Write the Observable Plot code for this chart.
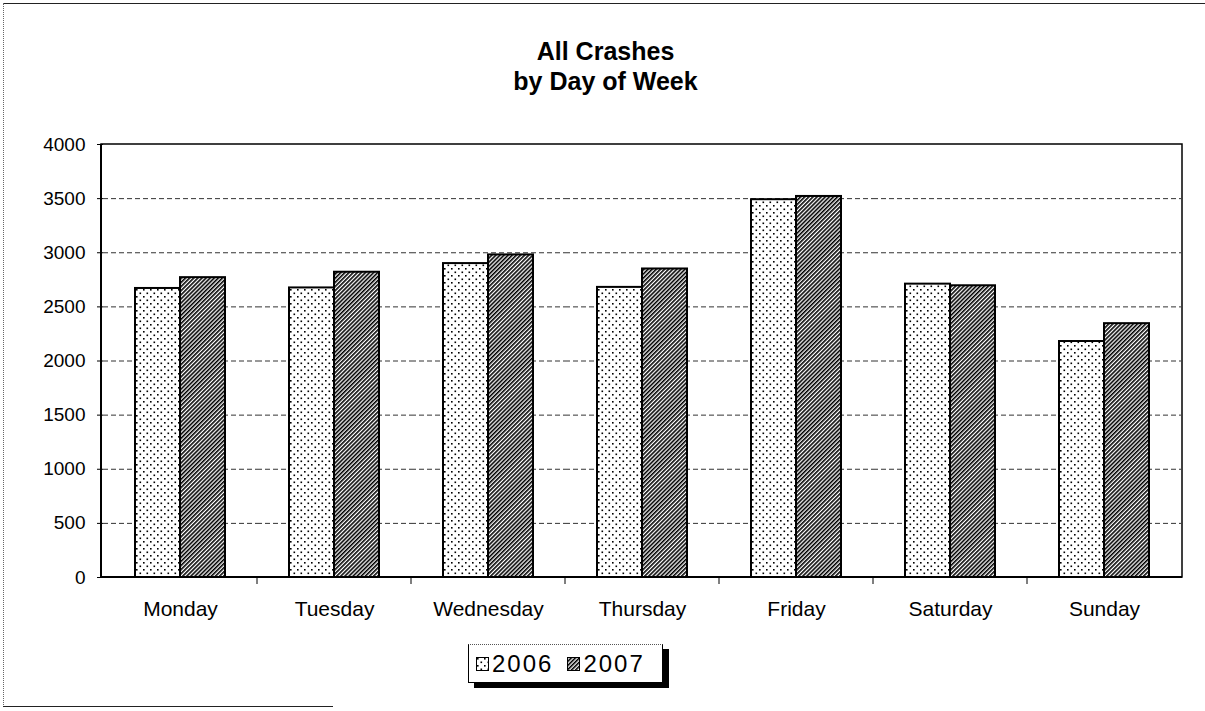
<!DOCTYPE html>
<html>
<head>
<meta charset="utf-8">
<script src="https://cdn.jsdelivr.net/npm/d3@7"></script>
<script src="https://cdn.jsdelivr.net/npm/@observablehq/plot@0.6"></script>
<style>
  body { margin: 0; background: #fff; font-family: "Liberation Sans", Arial, sans-serif; }
  #wrap { position: relative; width: 1205px; height: 711px; overflow: hidden; }
  #title { position: absolute; left: 0; top: 36px; width: 1211px; text-align: center; font-weight: bold; font-size: 25px; line-height: 30px; color: #000; }
  #chart { position: absolute; left: 0; top: 120px; }
  #legend { position: absolute; left: 468px; top: 644px; width: 193px; height: 37px; background: #fff;
            border-left: 1px solid #000; border-right: 1px solid #000; border-top: 1px dotted #555; border-bottom: 1px solid #000;
            box-shadow: 6px 5px 0 #000; display: flex; align-items: center; font-size: 24px; letter-spacing: 2px; }
  .sw { width: 13px; height: 14px; margin-left: 7px; margin-right: 3px; }
  .frame-top { position: absolute; left: 3px; top: 3px; width: 1202px; border-top: 1.5px solid #222; }
  .frame-left { position: absolute; left: 3px; top: 3px; height: 704px; border-left: 1px dotted #666; }
  .frame-bottom { position: absolute; left: 3px; top: 706px; width: 330px; border-top: 1.5px solid #222; }
</style>
</head>
<body>
<svg width="0" height="0" style="position:absolute">
  <defs>
    <pattern id="dots" patternUnits="userSpaceOnUse" width="7" height="7">
      <rect width="7" height="7" fill="#fff"/>
      <rect x="1" y="1" width="1.6" height="1.6" fill="#000"/>
      <rect x="4.5" y="4.5" width="1.6" height="1.6" fill="#000"/>
    </pattern>
    <pattern id="hatch" patternUnits="userSpaceOnUse" width="2.9" height="2.9" patternTransform="rotate(45)">
      <rect width="2.9" height="2.9" fill="#fff"/>
      <rect x="0" y="0" width="1.6" height="2.9" fill="#000"/>
    </pattern>
  </defs>
</svg>
<div id="wrap">
  <div class="frame-top"></div>
  <div class="frame-left"></div>
  <div class="frame-bottom"></div>
  <div id="title">All Crashes<br>by Day of Week</div>
  <div id="chart"></div>
  <div id="legend">
    <svg class="sw" viewBox="0 0 13 14"><rect x="0.5" y="0.5" width="12" height="13" fill="url(#dots)" stroke="#000"/></svg><span>2006</span>
    <svg class="sw" viewBox="0 0 13 14" style="margin-left:14px"><rect x="0.5" y="0.5" width="12" height="13" fill="url(#hatch)" stroke="#000"/></svg><span>2007</span>
  </div>
</div>
<script>
const days = ["Monday", "Tuesday", "Wednesday", "Thursday", "Friday", "Saturday", "Sunday"];
const years = ["2006", "2007"];
const crashes2006 = [2670, 2675, 2900, 2680, 3490, 2710, 2180];
const crashes2007 = [2770, 2820, 2980, 2850, 3520, 2695, 2345];
const yTicks = [0, 500, 1000, 1500, 2000, 2500, 3000, 3500, 4000];
const gridTicks = [500, 1000, 1500, 2000, 2500, 3000, 3500];

const data = days.flatMap((d, i) => [
  {day: d, year: "2006", value: crashes2006[i]},
  {day: d, year: "2007", value: crashes2007[i]}
]);

const plot = Plot.plot({
  width: 1205,
  height: 510,
  marginLeft: 101,
  marginRight: 23,
  marginTop: 24,
  marginBottom: 53,
  style: {fontFamily: "'Liberation Sans', Arial, sans-serif", fontSize: "19px", color: "#000", background: "transparent", overflow: "visible"},
  fx: {domain: days, padding: 0, label: null, axis: "bottom", tickSize: 0, tickPadding: 24},
  x: {domain: years, axis: null, paddingInner: 0, paddingOuter: 0.7},
  y: {domain: [0, 4000], ticks: yTicks, tickSize: 6, tickPadding: 12, label: null, tickFormat: d => String(d)},
  marks: [
    Plot.ruleY(gridTicks, {stroke: "#333", strokeDasharray: "5,3", strokeWidth: 1}),
    Plot.barY(data.filter(d => d.year === "2006"), {fx: "day", x: "year", y: "value", fill: "url(#dots)", stroke: "#000", strokeWidth: 2}),
    Plot.barY(data.filter(d => d.year === "2007"), {fx: "day", x: "year", y: "value", fill: "url(#hatch)", stroke: "#000", strokeWidth: 2})
  ]
});

document.getElementById("chart").appendChild(plot);

// larger category labels
d3.select(plot).selectAll("g[aria-label='fx-axis tick label']").attr("font-size", 21);

// plot-area frame and category boundary ticks, derived from the scales
const fx = plot.scale("fx");
const ys = plot.scale("y");
const [x0, x1] = fx.range;
const yBottom = ys.apply(0), yTop = ys.apply(4000);
const svg = d3.select(plot);
const g = svg.append("g");
g.append("rect").attr("x", x0).attr("y", yTop).attr("width", x1 - x0).attr("height", yBottom - yTop)
  .attr("fill", "none").attr("stroke", "#000").attr("stroke-width", 1.5);
g.append("line").attr("x1", x0).attr("x2", x1).attr("y1", yBottom).attr("y2", yBottom).attr("stroke", "#000").attr("stroke-width", 2);
g.append("line").attr("x1", x0).attr("x2", x0).attr("y1", yTop).attr("y2", yBottom).attr("stroke", "#000").attr("stroke-width", 2);
days.slice(1).forEach(d => {
  const bx = fx.apply(d);
  g.append("line").attr("x1", bx).attr("x2", bx).attr("y1", yBottom).attr("y2", yBottom + 7).attr("stroke", "#000").attr("stroke-width", 1);
});
</script>
</body>
</html>
